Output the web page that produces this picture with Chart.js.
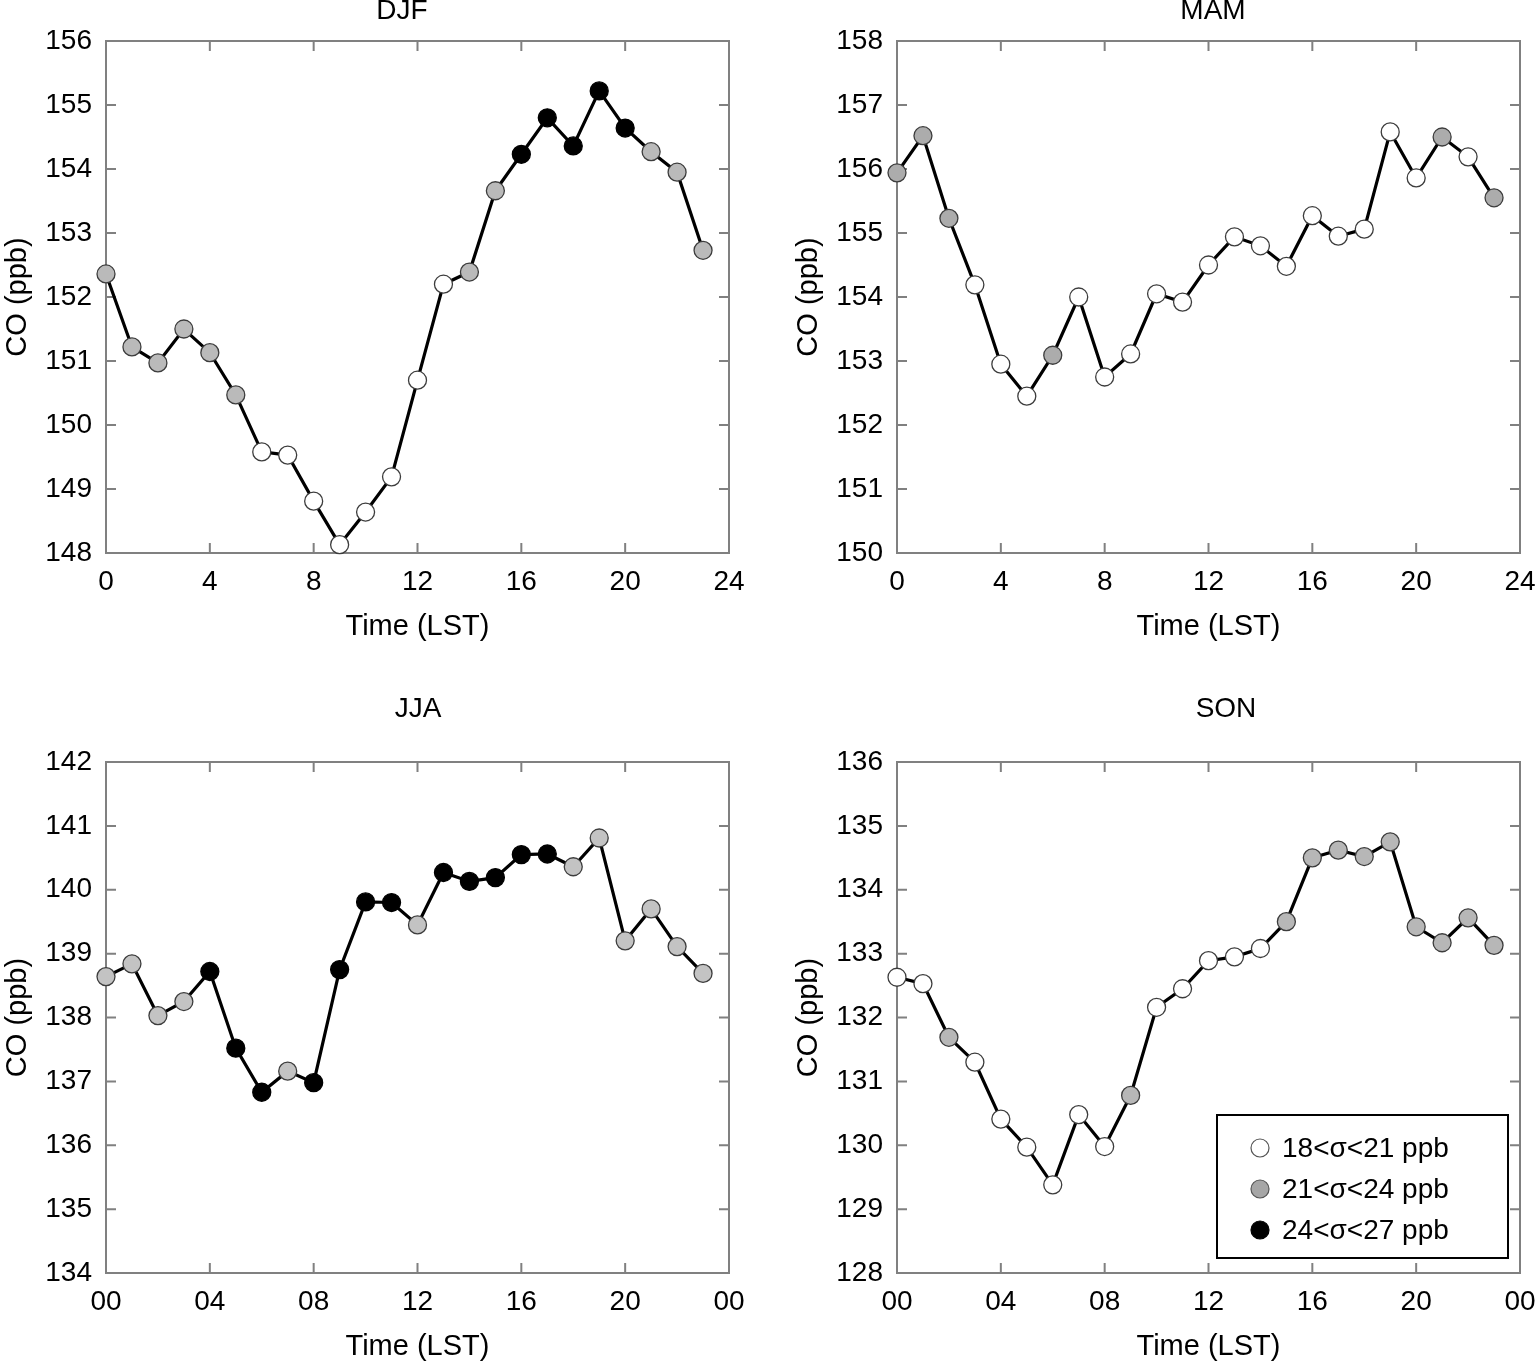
<!DOCTYPE html>
<html><head><meta charset="utf-8">
<script src="https://cdn.jsdelivr.net/npm/chart.js@4.4.1/dist/chart.umd.min.js"></script>
<style>
html,body{margin:0;padding:0;background:#fff;overflow:hidden;width:1537px;height:1364px;position:relative}
canvas{position:absolute}
</style></head><body>
<canvas id="c0"></canvas><canvas id="c1"></canvas><canvas id="c2"></canvas><canvas id="c3"></canvas>
<script>
// ---------- data ----------
const hours = [0,1,2,3,4,5,6,7,8,9,10,11,12,13,14,15,16,17,18,19,20,21,22,23];
const seasonTitles = ['DJF','MAM','JJA','SON'];

const djfValues = [152.36,151.22,150.97,151.50,151.13,150.47,149.58,149.53,148.81,148.13,148.64,149.19,150.70,152.20,152.39,153.66,154.23,154.80,154.36,155.22,154.64,154.27,153.95,152.73];
const mamValues = [155.94,156.52,155.23,154.19,152.95,152.45,153.09,154.00,152.75,153.11,154.05,153.92,154.50,154.94,154.80,154.48,155.27,154.95,155.06,156.58,155.86,156.50,156.19,155.55];
const jjaValues = [138.64,138.84,138.03,138.25,138.72,137.52,136.83,137.16,136.98,138.75,139.81,139.80,139.45,140.27,140.13,140.19,140.55,140.56,140.36,140.81,139.20,139.70,139.11,138.69];
const sonValues = [132.63,132.53,131.69,131.30,130.41,129.97,129.38,130.48,129.98,130.78,132.16,132.45,132.89,132.95,133.08,133.50,134.50,134.62,134.52,134.75,133.42,133.17,133.56,133.13];

// sigma class per hour: 0 = 18<σ<21, 1 = 21<σ<24, 2 = 24<σ<27
const djfClass = [1,1,1,1,1,1,0,0,0,0,0,0,0,0,1,1,2,2,2,2,2,1,1,1];
const mamClass = [1,1,1,0,0,0,1,0,0,0,0,0,0,0,0,0,0,0,0,0,0,1,0,1];
const jjaClass = [1,1,1,1,2,2,2,1,2,2,2,2,1,2,2,2,2,2,1,1,1,1,1,1];
const sonClass = [0,0,1,0,0,0,0,0,0,1,0,0,0,0,0,1,1,1,1,1,1,1,1,1];

const djfRange = [148,156];
const mamRange = [150,158];
const jjaRange = [134,142];
const sonRange = [128,136];

const xTickValues = [0,4,8,12,16,20,24];
const xTickLabelsTop = ['0','4','8','12','16','20','24'];
const xTickLabelsBottom = ['00','04','08','12','16','20','00'];
const legendLabels = ['18<σ<21 ppb','21<σ<24 ppb','24<σ<27 ppb'];
const yAxisTitle = 'CO (ppb)';
const xAxisTitle = 'Time (LST)';

// ---------- styles / layout ----------
const FONT = "'Liberation Sans', Arial, Helvetica, sans-serif";
const FRAME = '#808080';
const panels = [
  {id:'c0', title:seasonTitles[0], values:djfValues, classes:djfClass, range:djfRange, xLabels:xTickLabelsTop,
   left:0, width:800, areaLeft:106, areaRight:729, areaTop:41, areaBottom:553, titleX:402, titleY:11, gray:'#bababa'},
  {id:'c1', title:seasonTitles[1], values:mamValues, classes:mamClass, range:mamRange, xLabels:xTickLabelsTop,
   left:791, width:800, areaLeft:897, areaRight:1520, areaTop:41, areaBottom:553, titleX:1213, titleY:11, gray:'#acacac'},
  {id:'c2', title:seasonTitles[2], values:jjaValues, classes:jjaClass, range:jjaRange, xLabels:xTickLabelsBottom,
   left:0, width:800, areaLeft:106, areaRight:729, areaTop:762, areaBottom:1273, titleX:418, titleY:709, gray:'#c3c3c3'},
  {id:'c3', title:seasonTitles[3], values:sonValues, classes:sonClass, range:sonRange, xLabels:xTickLabelsBottom,
   left:791, width:800, areaLeft:897, areaRight:1520, areaTop:762, areaBottom:1273, titleX:1226, titleY:709, gray:'#b7b7b7', legend:true}
];

const framePlugin = {
  id:'frame',
  beforeDatasetsDraw(chart){
    const {ctx, chartArea:a, scales:{x, y}} = chart;
    ctx.save();
    ctx.strokeStyle = FRAME; ctx.lineWidth = 2;
    ctx.strokeRect(a.left, a.top, a.right - a.left, a.bottom - a.top);
    const L = 10;
    ctx.beginPath();
    x.ticks.forEach(t => {
      const px = x.getPixelForValue(t.value);
      ctx.moveTo(px, a.bottom); ctx.lineTo(px, a.bottom - L);
      ctx.moveTo(px, a.top); ctx.lineTo(px, a.top + L);
    });
    y.ticks.forEach(t => {
      const py = y.getPixelForValue(t.value);
      ctx.moveTo(a.left, py); ctx.lineTo(a.left + L, py);
      ctx.moveTo(a.right, py); ctx.lineTo(a.right - L, py);
    });
    ctx.stroke();
    ctx.restore();
  }
};

const panelTitlePlugin = {
  id:'panelTitle',
  afterDraw(chart, args, opts){
    const ctx = chart.ctx;
    ctx.save();
    ctx.font = '28px ' + FONT; ctx.fillStyle = '#000';
    ctx.textAlign = 'center'; ctx.textBaseline = 'middle';
    ctx.fillText(opts.text, opts.x, opts.y);
    ctx.restore();
  }
};

const legendPlugin = {
  id:'sigmaLegend',
  afterDraw(chart, args, opts){
    if (!opts.show) return;
    const {ctx, chartArea:a} = chart;
    const bx = a.right - 303, by = a.bottom - 158, bw = 291, bh = 143;
    ctx.save();
    ctx.fillStyle = '#fff'; ctx.fillRect(bx, by, bw, bh);
    ctx.strokeStyle = '#000'; ctx.lineWidth = 2; ctx.strokeRect(bx, by, bw, bh);
    const fills = ['#ffffff', '#a6a6a6', '#000000'];
    const strokes = ['#555555', '#555555', '#000000'];
    ctx.font = '28px ' + FONT; ctx.textBaseline = 'middle'; ctx.textAlign = 'left';
    legendLabels.forEach((lab, i) => {
      const cy = by + 33 + i * 41;
      ctx.beginPath(); ctx.arc(bx + 43, cy, 9, 0, Math.PI * 2);
      ctx.fillStyle = fills[i]; ctx.fill();
      ctx.lineWidth = 1.2; ctx.strokeStyle = strokes[i]; ctx.stroke();
      ctx.fillStyle = '#000'; ctx.fillText(lab, bx + 65, cy + 1);
    });
    ctx.restore();
  }
};

panels.forEach(p => {
  const canvasTop = p.titleY - 22;
  const W = p.width;
  const H = p.areaBottom - canvasTop + 108;
  const yWidth = p.areaLeft - p.left;
  const padRight = W - (p.areaRight - p.left);
  const padTop = p.areaTop - canvasTop;
  const cv = document.getElementById(p.id);
  cv.width = W; cv.height = H;
  cv.style.left = p.left + 'px'; cv.style.top = canvasTop + 'px';
  cv.style.width = W + 'px'; cv.style.height = H + 'px';
  const fillFor = c => c === 0 ? '#ffffff' : (c === 1 ? p.gray : '#000000');
  const strokeFor = c => c === 2 ? '#000000' : '#3c3c3c';
  new Chart(cv, {
    type:'line',
    data:{
      datasets:[{
        data: hours.map((h, i) => ({x:h, y:p.values[i]})),
        borderColor:'#000', borderWidth:3.2, tension:0, fill:false, clip:false,
        pointRadius:9, pointHoverRadius:9, pointBorderWidth:1.3,
        pointBackgroundColor: p.classes.map(fillFor),
        pointBorderColor: p.classes.map(strokeFor)
      }]
    },
    options:{
      responsive:false, animation:false, devicePixelRatio:1,
      layout:{padding:{left:0, right:padRight, top:padTop, bottom:0}},
      plugins:{
        legend:{display:false}, tooltip:{enabled:false}, title:{display:false},
        panelTitle:{text:p.title, x:p.titleX - p.left, y:p.titleY - canvasTop},
        sigmaLegend:{show: !!p.legend}
      },
      scales:{
        x:{type:'linear', min:0, max:24,
           afterBuildTicks(s){ s.ticks = xTickValues.map(v => ({value:v})); },
           afterFit(s){ s.height = 108; },
           grid:{display:false, drawTicks:false}, border:{display:false},
           ticks:{padding:12, color:'#000', font:{family:FONT, size:28}, maxRotation:0, autoSkip:false,
                  callback:(v, i) => p.xLabels[i]},
           title:{display:true, text:xAxisTitle, color:'#000', font:{family:FONT, size:29, lineHeight:1.2}, padding:{top:0, bottom:16.6}}
        },
        y:{type:'linear', min:p.range[0], max:p.range[1],
           afterFit(s){ s.width = yWidth; },
           grid:{display:false, drawTicks:false}, border:{display:false},
           ticks:{stepSize:1, padding:14, color:'#000', font:{family:FONT, size:28}},
           title:{display:true, text:yAxisTitle, color:'#000', font:{family:FONT, size:29, lineHeight:1.2}, padding:{top:0.5, bottom:0}}
        }
      }
    },
    plugins:[framePlugin, panelTitlePlugin, legendPlugin]
  });
});
</script>
</body></html>
